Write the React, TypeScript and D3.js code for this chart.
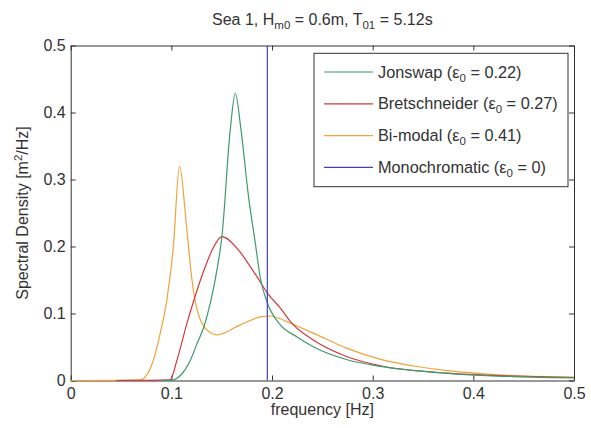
import { useEffect, useRef } from "react";
import * as d3 from "d3";

// frequency [Hz] / spectral density [m^2/Hz]
const jonswapFreq = [0.09, 0.102, 0.108, 0.114, 0.12, 0.1255, 0.1326, 0.1386, 0.1453, 0.1502, 0.1585, 0.1635, 0.1692, 0.1767, 0.1834, 0.1884, 0.1956, 0.2083, 0.2249, 0.2414, 0.2746, 0.3078, 0.3741, 0.44, 0.5];
const jonswapValues = [0, 0.001, 0.006, 0.017, 0.034, 0.055, 0.0813, 0.115, 0.165, 0.2146, 0.374, 0.4287, 0.374, 0.274, 0.205, 0.153, 0.115, 0.083, 0.065, 0.05, 0.031, 0.021, 0.0107, 0.0057, 0.004];

const bretFreq = [0.045, 0.0988, 0.1055, 0.1154, 0.123, 0.132, 0.1419, 0.1502, 0.166, 0.1784, 0.185, 0.1956, 0.2083, 0.2182, 0.2414, 0.2746, 0.3078, 0.374, 0.44, 0.5];
const bretValues = [0, 0.001, 0.03, 0.085, 0.1227, 0.163, 0.199, 0.2146, 0.196, 0.17, 0.155, 0.13, 0.108, 0.088, 0.06, 0.0355, 0.022, 0.011, 0.0067, 0.0045];

const bimodalFreq = [0, 0.069, 0.0822, 0.0889, 0.0955, 0.102, 0.1081, 0.1154, 0.1205, 0.1245, 0.1287, 0.1326, 0.1386, 0.1453, 0.1685, 0.1884, 0.1983, 0.2182, 0.2414, 0.2746, 0.3078, 0.3409, 0.374, 0.407, 0.44, 0.5];
const bimodalValues = [0, 0.001, 0.0306, 0.0704, 0.12, 0.2, 0.32, 0.2246, 0.15, 0.112, 0.091, 0.08, 0.0715, 0.068, 0.083, 0.095, 0.0963, 0.0854, 0.0704, 0.048, 0.0316, 0.0216, 0.0146, 0.0104, 0.0072, 0.005];

const monoFreq = 1 / 5.12;

const tickValues = [0, 0.1, 0.2, 0.3, 0.4, 0.5];
const tickLabels = ["0", "0.1", "0.2", "0.3", "0.4", "0.5"];

const seriesNames = ["Jonswap", "Bretschneider", "Bi-modal", "Monochromatic"];
const seriesEps = ["0.22", "0.27", "0.41", "0"];
const seriesColors = ["#3d9a6c", "#d23a3e", "#f2a23a", "#3f3fc2"];

const App = () => {
  const svgRef = useRef<SVGSVGElement>(null);
  const width = 591;
  const height = 428;

  useEffect(() => {
    const svg = d3.select(svgRef.current);
    svg.selectAll("*").remove();

    const left = 70.7, right = 574, top = 45.5, bottom = 380.5;
    const font = "'Liberation Sans', Arial, sans-serif";
    const ink = "#333";

    const x = d3.scaleLinear().domain([0, 0.5]).range([left, right]);
    const y = d3.scaleLinear().domain([0, 0.5]).range([bottom, top]);

    svg.append("rect").attr("width", width).attr("height", height).attr("fill", "#fff");

    const fmt = (d: d3.NumberValue) => tickLabels[tickValues.indexOf(+d)];

    const styleAxis = (g: any) => {
      g.attr("font-family", font).attr("font-size", 16);
      g.selectAll("line").attr("stroke", ink);
      g.selectAll("path").attr("stroke", ink);
      g.selectAll("text").attr("fill", ink);
    };

    svg.append("g").attr("transform", `translate(0,${bottom})`)
      .call(d3.axisBottom(x).tickValues(tickValues).tickFormat(fmt).tickSizeInner(-5).tickSizeOuter(0).tickPadding(7))
      .call(styleAxis);
    svg.append("g").attr("transform", `translate(0,${top})`)
      .call(d3.axisTop(x).tickValues(tickValues).tickFormat(() => "").tickSizeInner(-5).tickSizeOuter(0))
      .call(styleAxis);
    svg.append("g").attr("transform", `translate(${left},0)`)
      .call(d3.axisLeft(y).tickValues(tickValues).tickFormat(fmt).tickSizeInner(-5).tickSizeOuter(0).tickPadding(5))
      .call(styleAxis);
    svg.append("g").attr("transform", `translate(${right},0)`)
      .call(d3.axisRight(y).tickValues(tickValues).tickFormat(() => "").tickSizeInner(-5).tickSizeOuter(0))
      .call(styleAxis);

    const line = d3.line<[number, number]>()
      .x(d => x(d[0]))
      .y(d => y(d[1]))
      .curve(d3.curveMonotoneX);

    const series: [number[], number[], string][] = [
      [bimodalFreq, bimodalValues, seriesColors[2]],
      [bretFreq, bretValues, seriesColors[1]],
      [jonswapFreq, jonswapValues, seriesColors[0]],
    ];
    series.forEach(([f, v, c]) => {
      svg.append("path")
        .datum(f.map((d, i) => [d, v[i]] as [number, number]))
        .attr("fill", "none")
        .attr("stroke", c)
        .attr("stroke-width", 1.2)
        .attr("d", line);
    });

    svg.append("line")
      .attr("x1", x(monoFreq)).attr("x2", x(monoFreq))
      .attr("y1", y(0)).attr("y2", y(0.5))
      .attr("stroke", seriesColors[3])
      .attr("stroke-width", 1.2);

    // legend
    const lg = svg.append("g").attr("font-family", font).attr("font-size", 16.3).attr("fill", ink);
    lg.append("rect")
      .attr("x", 314).attr("y", 53.3).attr("width", 254).attr("height", 133.4)
      .attr("fill", "#fff").attr("stroke", ink);
    seriesNames.forEach((name, i) => {
      const ry = 72 + i * 31.8;
      lg.append("line").attr("x1", 324).attr("x2", 373).attr("y1", ry).attr("y2", ry)
        .attr("stroke", seriesColors[i]).attr("stroke-width", 1.2);
      const t = lg.append("text").attr("x", 378).attr("y", ry + 5.5);
      t.append("tspan").text(`${name} (ε`);
      t.append("tspan").attr("dy", 4).attr("font-size", 11.5).text("0");
      t.append("tspan").attr("dy", -4).text(` = ${seriesEps[i]})`);
    });

    // title
    const title = svg.append("text")
      .attr("x", (left + right) / 2).attr("y", 25)
      .attr("text-anchor", "middle")
      .attr("font-family", font).attr("font-size", 16).attr("fill", ink);
    title.append("tspan").text("Sea 1, H");
    title.append("tspan").attr("dy", 4).attr("font-size", 11.5).text("m0");
    title.append("tspan").attr("dy", -4).text(" = 0.6m, T");
    title.append("tspan").attr("dy", 4).attr("font-size", 11.5).text("01");
    title.append("tspan").attr("dy", -4).text(" = 5.12s");

    svg.append("text")
      .attr("x", (left + right) / 2).attr("y", 415)
      .attr("text-anchor", "middle")
      .attr("font-family", font).attr("font-size", 16).attr("fill", ink)
      .text("frequency [Hz]");

    const yl = svg.append("text")
      .attr("transform", `translate(28,${(top + bottom) / 2}) rotate(-90)`)
      .attr("text-anchor", "middle")
      .attr("font-family", font).attr("font-size", 16).attr("fill", ink);
    yl.append("tspan").text("Spectral Density [m");
    yl.append("tspan").attr("dy", -6).attr("font-size", 11.5).text("2");
    yl.append("tspan").attr("dy", 6).text("/Hz]");
  }, []);

  return (
    <svg
      ref={svgRef}
      width={width}
      height={height}
      style={{ position: "fixed", left: 0, top: 0, display: "block" }}
    />
  );
};

export default App;
